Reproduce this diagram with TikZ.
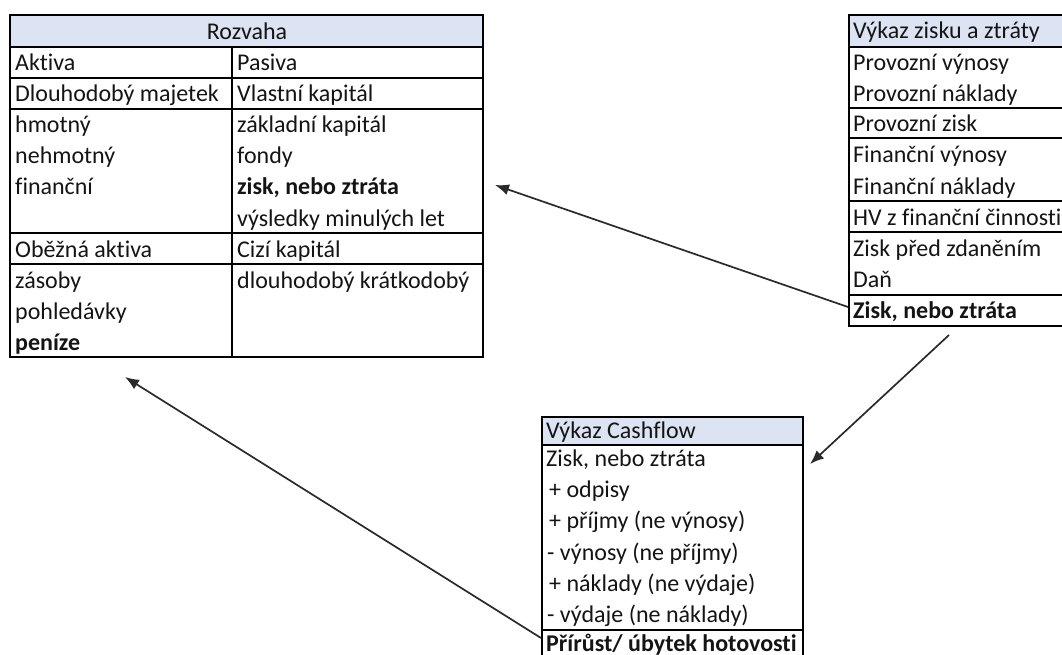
\documentclass[tikz,border=0pt]{standalone}
\usepackage{fontspec}
\setmainfont{Carlito}[Ligatures={NoCommon}]
\usetikzlibrary{arrows.meta}
\definecolor{hdr}{HTML}{DCE3F3}
\definecolor{txt}{HTML}{141414}
\definecolor{arr}{HTML}{2A2A2A}
\begin{document}
\begin{tikzpicture}[x=1pt,y=-1pt,
  grid/.style={line width=2.8pt, draw=black},
  cell/.style={anchor=base west, inner sep=0pt, font=\fontsize{24}{28}\selectfont, text=txt},
  hcell/.style={cell, anchor=base},
  bcell/.style={cell, font=\fontsize{24}{28}\selectfont\bfseries},
  link/.style={draw=arr, line width=1.7pt, -{Latex[length=14pt,width=11pt]}}]
\useasboundingbox (0,0) rectangle (1062,655);
\clip (0,0) rectangle (1062,655);
% ---------- Rozvaha ----------
\fill[hdr] (10,15) rectangle (483,47);
\draw[grid] (10,15) rectangle (483,357);
\foreach \yy in {47,78,109,233,264} \draw[grid] (10,\yy) -- (483,\yy);
\draw[grid] (232,47) -- (232,357);
\node[hcell] (rozvaha) at (247,40) {Rozvaha};
\node[cell] (aktiva) at (15,71) {Aktiva};
\node[cell] (pasiva) at (237,71) {Pasiva};
\node[cell] (dlm) at (15,102) {Dlouhodobý majetek};
\node[cell] (vk) at (237,102) {Vlastní kapitál};
\node[cell] (hmotny) at (15,133) {hmotný};
\node[cell] (nehmotny) at (15,164) {nehmotný};
\node[cell] (financni) at (15,195) {finanční};
\node[cell] (zakl) at (237,133) {základní kapitál};
\node[cell] (fondy) at (237,164) {fondy};
\node[bcell] (rzisk) at (237,195) {zisk, nebo ztráta};
\node[cell] (vysl) at (237,226) {výsledky minulých let};
\node[cell] (oa) at (15,257) {Oběžná aktiva};
\node[cell] (ck) at (237,257) {Cizí kapitál};
\node[cell] (zasoby) at (15,288) {zásoby};
\node[cell] (pohl) at (15,319) {pohledávky};
\node[bcell] (penize) at (15,350) {peníze};
\node[cell] (dlkr) at (237,288) {dlouhodobý krátkodobý};
% ---------- Výkaz zisku a ztráty ----------
\fill[hdr] (849,15) rectangle (1075,47);
\draw[grid] (849,15) rectangle (1075,326);
\foreach \yy in {47,108,138,201,232,295} \draw[grid] (849,\yy) -- (1075,\yy);
\node[cell] (vzz) at (853,39) {Výkaz zisku a ztráty};
\node[cell] (pv) at (853,71) {Provozní výnosy};
\node[cell] (pn) at (853,102) {Provozní náklady};
\node[cell] (pz) at (853,132) {Provozní zisk};
\node[cell] (fv) at (853,163) {Finanční výnosy};
\node[cell] (fn) at (853,194) {Finanční náklady};
\node[cell] (hv) at (853,225) {HV z finanční činnosti};
\node[cell] (zpz) at (853,256) {Zisk před zdaněním};
\node[cell] (dan) at (853,287) {Daň};
\node[bcell] (vzisk) at (853,318) {Zisk, nebo ztráta};
% ---------- Výkaz Cashflow ----------
\fill[hdr] (542,417) rectangle (803,445);
\draw[grid] (542,417) rectangle (803,675);
\foreach \yy in {445,630} \draw[grid] (542,\yy) -- (803,\yy);
\node[cell] (cf) at (546,438) {Výkaz Cashflow};
\node[cell] (czisk) at (546,466) {Zisk, nebo ztráta};
\node[cell] (odp) at (549,497) {+ odpisy};
\node[cell] (prij) at (549,528) {+ příjmy (ne výnosy)};
\node[cell] (vyn) at (547,560) {- výnosy (ne příjmy)};
\node[cell] (nakl) at (549,591) {+ náklady (ne výdaje)};
\node[cell] (vyd) at (547,622) {- výdaje (ne náklady)};
\node[bcell] (prir) at (546,651) {Přírůst/ úbytek hotovosti};
% ---------- connectors ----------
\coordinate (a1s) at (848,307);
\coordinate (a1e) at (495,185);
\coordinate (a2s) at (949,335);
\coordinate (a2e) at (810,464);
\coordinate (a3s) at (541,638);
\coordinate (a3e) at (125,377);
\draw[link] (a1s) -- (a1e);
\draw[link] (a2s) -- (a2e);
\draw[link] (a3s) -- (a3e);
\end{tikzpicture}
\end{document}
